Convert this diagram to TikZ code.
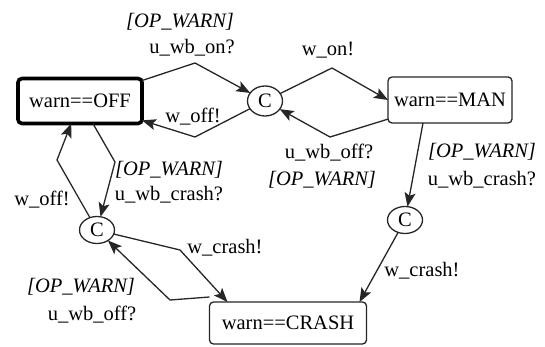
\documentclass[tikz,border=0pt]{standalone}
\usepackage{fontspec}
\setmainfont{Liberation Serif}
\usetikzlibrary{shapes.geometric,arrows.meta}
\begin{document}
\begin{tikzpicture}[x=1pt,y=-1pt,
  every node/.style={font=\fontsize{20.5}{24}\selectfont, inner sep=0pt, outer sep=0pt},
  state/.style={draw=black!85, rectangle, rounded corners=4pt, line width=1.3pt, fill=white},
  initstate/.style={state, draw=black, line width=3.6pt},
  commit/.style={draw=black!85, ellipse, line width=1.3pt, minimum width=35pt, minimum height=27pt},
  trans/.style={draw=black!85, line width=1.3pt, -{Stealth[length=14pt,width=11pt,inset=3pt]}},
  guard/.style={font=\fontsize{20.5}{24}\selectfont\itshape},
  sync/.style={}]
\useasboundingbox (0,0) rectangle (545,347);

% locations
\node[initstate, minimum width=124pt, minimum height=45pt] (off) at (80,101) {warn==OFF};
\node[state, minimum width=124pt, minimum height=46pt] (man) at (450,100) {warn==MAN};
\node[state, minimum width=157pt, minimum height=42pt] (crash) at (288,323) {warn==CRASH};

% committed locations
\node[commit, minimum height=30pt] (c1) at (265,101) {C};
\node[commit] (c2) at (97,230) {C};
\node[commit] (c3) at (405,220) {C};

% bend points of the edges
\coordinate (b1) at (195,63);
\coordinate (b2) at (195,137);
\coordinate (b3) at (332,68);
\coordinate (b4) at (330,137);
\coordinate (b7) at (115,162);
\coordinate (b8) at (57,160);
\coordinate (b9) at (180,250);
\coordinate (b10) at (170,300);

% edges
\draw[trans] (off) -- (b1) -- (c1);
\draw[trans] (c1) -- (b2) -- (off);
\draw[trans] (c1) -- (b3) -- (man.west);
\draw[trans] (man) -- (b4) -- (c1);
\draw[trans] ([xshift=-27pt]man.south) -- (c3);
\draw[trans] (c3) -- ([xshift=-7pt]crash.north east);
\draw[trans] (off) -- (b7) -- (c2);
\draw[trans] (c2) -- (b8) -- (off);
\draw[trans] (c2) -- (b9) -- ([xshift=18pt]crash.north west);
\draw[trans] ([yshift=5pt]crash.north west) -- (b10) -- (c2);

% guards and synchronisations
\node[guard] (g1) at (180,22) {[OP\_WARN]};
\node[sync] (s1) at (192,48) {u\_wb\_on?};
\node[sync] (s2) at (193,117) {w\_off!};
\node[sync] (s3) at (328,50) {w\_on!};
\node[sync] (s4) at (329,153) {u\_wb\_off?};
\node[guard] (g4) at (322,180) {[OP\_WARN]};
\node[guard] (g5) at (482,152) {[OP\_WARN]};
\node[sync] (s5) at (482,180) {u\_wb\_crash?};
\node[sync] (s6) at (422,271) {w\_crash!};
\node[guard] (g7) at (169,170) {[OP\_WARN]};
\node[sync] (s7) at (169,195) {u\_wb\_crash?};
\node[sync] (s8) at (42,200) {w\_off!};
\node[sync] (s9) at (225,248) {w\_crash!};
\node[guard] (g10) at (81,287) {[OP\_WARN]};
\node[sync] (s10) at (92,315) {u\_wb\_off?};
\end{tikzpicture}
\end{document}
